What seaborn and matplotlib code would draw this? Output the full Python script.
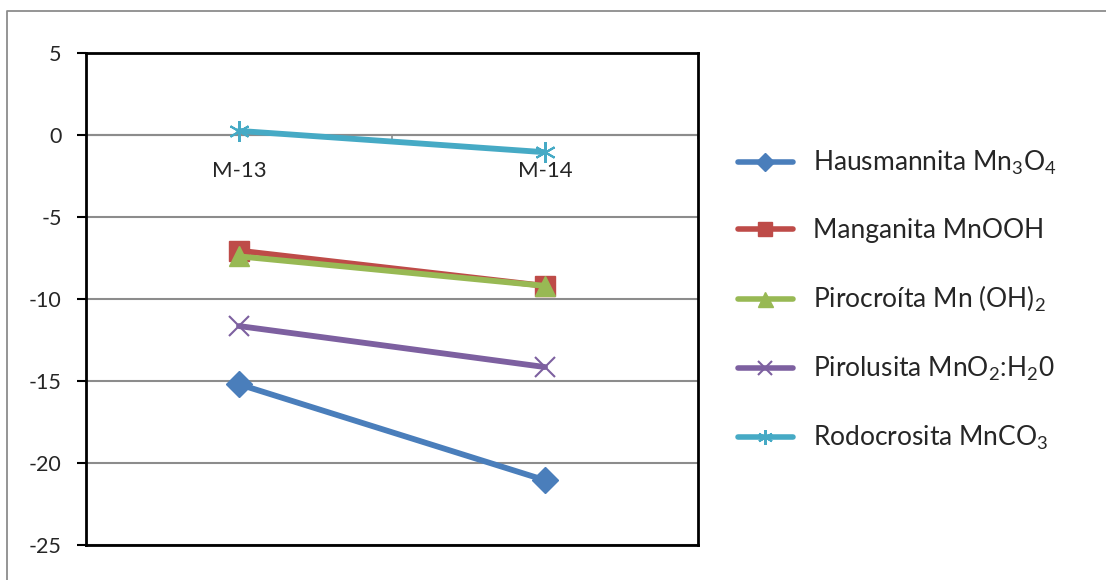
import matplotlib
matplotlib.use("Agg")
import matplotlib.pyplot as plt
import seaborn as sns
import pandas as pd
from matplotlib.lines import Line2D

categories = ["M-13", "M-14"]
series_names = [
    "Hausmannita Mn$_{3}$O$_{4}$",
    "Manganita MnOOH",
    "Pirocroíta Mn (OH)$_{2}$",
    "Pirolusita MnO$_{2}$:H$_{2}$0",
    "Rodocrosita MnCO$_{3}$",
]
hausmannita = [-15.2, -21.05]
manganita = [-7.05, -9.2]
pirocroita = [-7.4, -9.2]
pirolusita = [-11.65, -14.15]
rodocrosita = [0.25, -1.05]
y_ticks = [5, 0, -5, -10, -15, -20, -25]

values = [hausmannita, manganita, pirocroita, pirolusita, rodocrosita]
colors = ["#4A7EBB", "#BE4B48", "#98B954", "#7D60A0", "#46AAC5"]
markers = ["D", "s", "^", "x", (6, 2, 0)]
msizes = [13, 14, 15, 14, 15]
mews = [1, 1, 1, 1.5, 1.5]

sns.set_style("white")
plt.rcParams["font.family"] = ["Lato", "DejaVu Sans"]
plt.rcParams["mathtext.fontset"] = "custom"
plt.rcParams["mathtext.rm"] = "Lato"
plt.rcParams["mathtext.it"] = "Lato"
plt.rcParams["mathtext.default"] = "regular"

fig = plt.figure(figsize=(11.06, 5.8), dpi=100)
ax = fig.add_axes([86 / 1106, 35 / 580, 612 / 1106, 492 / 580])

rows = []
for name, vals in zip(series_names, values):
    for i, v in enumerate(vals):
        rows.append({"series": name, "x": i, "value": v})
df = pd.DataFrame(rows)

handles = []
for name, col, mk, ms, mew in zip(series_names, colors, markers, msizes, mews):
    sub = df[df["series"] == name]
    sns.lineplot(data=sub, x="x", y="value", ax=ax, color=col, linewidth=4.2,
                 marker=mk, markersize=ms, markeredgecolor=col, markerfacecolor=col,
                 markeredgewidth=mew, legend=False, zorder=3)
    handles.append(Line2D([0], [0], color=col, linewidth=4.0, marker=mk,
                          markersize=ms * 0.72, markeredgecolor=col,
                          markerfacecolor=col, markeredgewidth=mew))

ax.set_xlim(-0.5, 1.5)
ax.set_ylim(-25, 5)
ax.set_yticks(y_ticks)
ax.set_yticklabels([str(t) for t in y_ticks])
ax.set_xticks([])
ax.set_xlabel("")
ax.set_ylabel("")
ax.grid(axis="y", color="#8c8c8c", linewidth=1.5, zorder=0)
ax.set_axisbelow(True)
for s in ax.spines.values():
    s.set_color("black")
    s.set_linewidth(2)
ax.tick_params(axis="y", direction="out", length=6.5, width=1.5, color="black",
               pad=11, labelsize=15.5, left=True)

sec = ax.secondary_xaxis(0, transform=ax.transData)
sec.set_xticks([0, 1])
sec.set_xticklabels(categories)
sec.set_xticks([0.5, 1.5], minor=True)
sec.tick_params(axis="x", which="major", length=0, pad=19, labelsize=16)
sec.tick_params(axis="x", which="minor", length=3, width=1.2, color="#8c8c8c", direction="out")
for s in sec.spines.values():
    s.set_color("#8c8c8c")
    s.set_linewidth(1.5)

leg = fig.legend(handles, series_names, loc="upper left",
                 bbox_to_anchor=(714 / 1106, 1 - 125 / 580),
                 frameon=False, fontsize=19, handlelength=2.1, handletextpad=0.75,
                 labelspacing=1.55)

# outer chart border (top and left visible)
fig.add_artist(Line2D([7 / 1106, 7 / 1106, 1.0], [0.0, 1 - 11 / 580, 1 - 11 / 580],
                      transform=fig.transFigure, color="#8c8c8c", linewidth=1.3))

fig.savefig("out.png", dpi=100, facecolor="white")
